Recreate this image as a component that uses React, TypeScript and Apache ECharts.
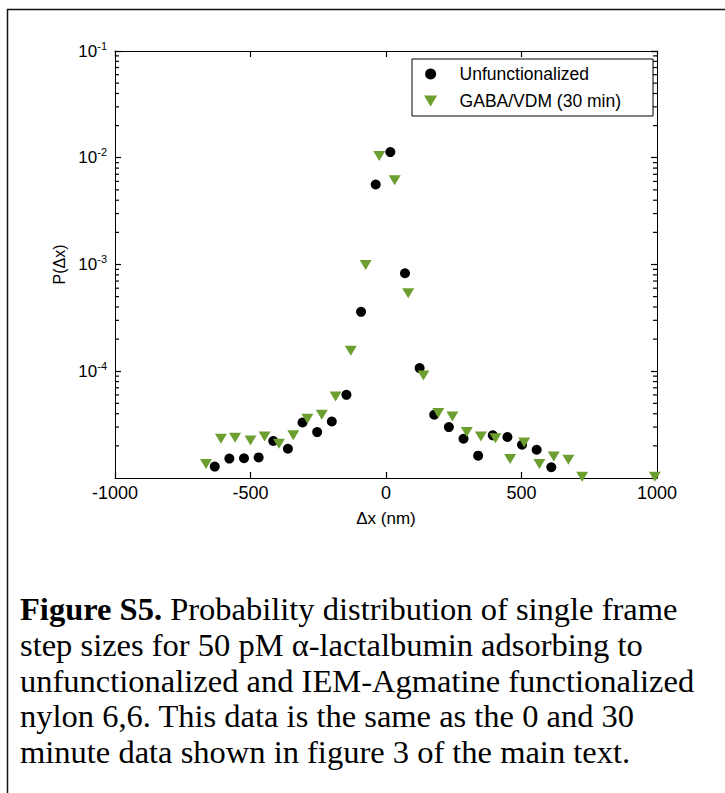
import React, { useEffect, useRef } from "react";
import * as echarts from "echarts";

const xUnf = [-632, -578, -524, -470, -416, -362, -308, -254, -200, -146, -92, -38, 16, 70, 124, 178, 232, 286, 340, 394, 448, 502, 556, 610];
const yUnf = [1.28e-5, 1.52e-5, 1.53e-5, 1.56e-5, 2.22e-5, 1.88e-5, 3.31e-5, 2.69e-5, 3.38e-5, 6.01e-5, 3.6e-4, 5.62e-3, 1.13e-2, 8.28e-4, 1.07e-4, 3.91e-5, 3.0e-5, 2.33e-5, 1.62e-5, 2.51e-5, 2.42e-5, 2.05e-5, 1.84e-5, 1.26e-5];

const xGaba = [-664, -609, -557, -500, -448, -395, -342, -290, -237, -186, -130, -75, -25, 32, 82, 138, 193, 245, 298, 350, 404, 458, 510, 566, 619, 673, 724, 992];
const yGaba = [1.35e-5, 2.33e-5, 2.38e-5, 2.25e-5, 2.45e-5, 2.09e-5, 2.51e-5, 3.59e-5, 3.91e-5, 5.79e-5, 1.56e-4, 9.89e-4, 1.04e-2, 6.17e-3, 5.38e-4, 9.12e-5, 4.06e-5, 3.77e-5, 2.69e-5, 2.45e-5, 2.36e-5, 1.51e-5, 2.15e-5, 1.35e-5, 1.59e-5, 1.48e-5, 1.03e-5, 1.03e-5];

const seriesNames = ["Unfunctionalized", "GABA/VDM (30 min)"];
const xTitle = "\u0394x (nm)";
const yTitle = "P(\u0394x)";
const captionBold = "Figure S5.";
const captionLines = [
  " Probability distribution of single frame",
  "step sizes for 50 pM \u03b1-lactalbumin adsorbing to",
  "unfunctionalized and IEM-Agmatine functionalized",
  "nylon 6,6. This data is the same as the 0 and 30",
  "minute data shown in figure 3 of the main text.",
];
const decadeExps = [-5, -4, -3, -2];
const minorMult = [2, 3, 4, 5, 6, 7, 8, 9];

const GREEN = "#6c9f30";
const AXIS = "#000";
const SANS = "Liberation Sans, Arial, sans-serif";
const SERIF = "Liberation Serif, Times New Roman, serif";
const TRI = "path://M0,0 L12,0 L6,10 Z";

export default function App() {
  const ref = useRef<HTMLDivElement>(null);
  useEffect(() => {
    document.body.style.margin = "0";
    const chart = echarts.init(ref.current!, null, { renderer: "svg" });
    const tick = { show: true, inside: true, length: 6, lineStyle: { color: AXIS, width: 1.2 } };
    const line = { show: true, onZero: false, lineStyle: { color: AXIS, width: 1 } };
    const xBase = { type: "value", min: -1000, max: 1000, interval: 500, splitLine: { show: false } };
    const yBase = { type: "log", logBase: 10, min: 1e-5, max: 1e-1, splitLine: { show: false } };
    chart.setOption({
      animation: false,
      textStyle: { fontFamily: SANS },
      grid: { left: 115, right: 68, top: 51, bottom: 315 },
      legend: {
        orient: "vertical",
        left: 412,
        top: 59,
        padding: [6, 32, 6, 12],
        itemWidth: 48,
        itemHeight: 11,
        itemGap: 9,
        borderColor: "#000",
        borderWidth: 1,
        backgroundColor: "#fff",
        textStyle: { fontSize: 17.5, color: "#000", fontFamily: SANS, lineHeight: 17 },
        data: [
          { name: seriesNames[0], icon: "circle" },
          { name: seriesNames[1], icon: TRI },
        ],
      },
      xAxis: [
        {
          ...xBase,
          axisLine: line,
          axisTick: tick,
          position: "bottom",
          name: xTitle,
          nameLocation: "middle",
          nameGap: 32,
          nameTextStyle: { fontSize: 17, color: "#000", fontFamily: SANS },
          axisLabel: {
            fontSize: 18,
            color: "#000",
            margin: 6,
            fontFamily: SANS,
            formatter: (v: number) => String(v),
          },
        },
        { ...xBase, axisLine: line, axisTick: tick, position: "top", axisLabel: { show: false } },
      ],
      yAxis: [
        {
          ...yBase,
          axisLine: line,
          axisTick: tick,
          position: "left",
          name: yTitle,
          nameLocation: "middle",
          nameRotate: 90,
          nameGap: 46,
          nameTextStyle: { fontSize: 16, color: "#000", fontFamily: SANS },
          axisLabel: {
            showMinLabel: false,
            margin: 8,
            color: "#000",
            formatter: (v: number) => `{b|10}{s|${Math.round(Math.log10(v))}}`,
            rich: {
              b: { fontSize: 17, fontFamily: SANS, color: "#000" },
              s: { fontSize: 11, fontFamily: SANS, color: "#000", padding: [0, 0, 11, 0] },
            },
          },
        },
        { ...yBase, axisLine: line, axisTick: tick, position: "right", axisLabel: { show: false } },
      ],
      series: [
        {
          name: seriesNames[0],
          type: "scatter",
          symbol: "circle",
          symbolSize: 10,
          itemStyle: { color: "#000", opacity: 1 },
          data: xUnf.map((x, i) => [x, yUnf[i]]),
          clip: false,
        },
        {
          name: seriesNames[1],
          type: "scatter",
          symbol: TRI,
          symbolSize: [12, 10],
          itemStyle: { color: GREEN, opacity: 1 },
          data: xGaba.map((x, i) => [x, yGaba[i]]),
          clip: false,
        },
      ],
    });

    const graphics: any[] = [
      {
        type: "rect",
        shape: { x: 7.5, y: 9.5, width: 740, height: 800 },
        style: { fill: "none", stroke: "#111", lineWidth: 1.5 },
        silent: true,
      },
    ];
    const leftX = chart.convertToPixel({ xAxisIndex: 0 }, -1000) as number;
    const rightX = chart.convertToPixel({ xAxisIndex: 0 }, 1000) as number;
    decadeExps.forEach((e) => {
      minorMult.forEach((m) => {
        const v = m * Math.pow(10, e);
        const py = chart.convertToPixel({ yAxisIndex: 0 }, v) as number;
        if (!isFinite(py)) return;
        graphics.push({
          type: "line",
          shape: { x1: leftX, y1: py, x2: leftX + 4, y2: py },
          style: { stroke: AXIS, lineWidth: 1.2 },
          silent: true,
          z: 10,
        });
        graphics.push({
          type: "line",
          shape: { x1: rightX - 4, y1: py, x2: rightX, y2: py },
          style: { stroke: AXIS, lineWidth: 1.2 },
          silent: true,
          z: 10,
        });
      });
    });
    const lineYs = [609, 645, 681, 716, 752];
    captionLines.forEach((t, i) => {
      graphics.push({
        type: "text",
        x: 20,
        y: lineYs[i],
        style:
          i === 0
            ? {
                text: `{b|${captionBold}}{n|${t}}`,
                verticalAlign: "middle",
                rich: {
                  b: { fontFamily: SERIF, fontSize: 32.5, fontWeight: "bold", fill: "#000" },
                  n: { fontFamily: SERIF, fontSize: 32.5, fill: "#000" },
                },
              }
            : {
                text: t,
                fontFamily: SERIF,
                fontSize: 32.5,
                fill: "#000",
                verticalAlign: "middle",
              },
        silent: true,
      });
    });
    chart.setOption({ graphic: graphics });
    return () => chart.dispose();
  }, []);
  return <div ref={ref} style={{ width: 725, height: 793 }} />;
}
